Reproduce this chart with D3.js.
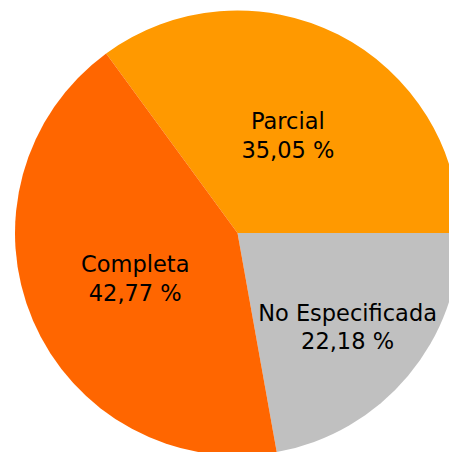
<!DOCTYPE html>
<html><head><meta charset="utf-8">
<script src="https://cdn.jsdelivr.net/npm/d3@7"></script>
<style>html,body{margin:0;padding:0;background:#fff;overflow:hidden}</style>
</head><body>
<svg id="chart" width="449" height="452"></svg>
<script>
const categories = ["Parcial", "No Especificada", "Completa"];
const values = [35.05, 22.18, 42.77];
const colors = ["#FF9900", "#C0C0C0", "#FF6600"];
const valueLabels = ["35,05 %", "22,18 %", "42,77 %"];

const cx = 237.5, cy = 233, r = 222.5;
const startDeg = 90 - values[0] / 100 * 360;
const pie = d3.pie().sort(null).value(d => d)
  .startAngle(startDeg * Math.PI / 180)
  .endAngle((startDeg + 360) * Math.PI / 180);
const arcs = pie(values);
const arc = d3.arc().innerRadius(0).outerRadius(r);
// small slices get their label pushed outward so it fits
const labelPos = d => {
  const k = (d.value < 30) ? 0.645 : 0.5;
  const a = (d.startAngle + d.endAngle) / 2;
  return [Math.sin(a) * r * k, -Math.cos(a) * r * k];
};

const svg = d3.select("#chart");
const g = svg.append("g").attr("transform", `translate(${cx},${cy})`);
g.selectAll("path").data(arcs).join("path")
  .attr("d", arc).attr("fill", (d, i) => colors[i]);

const lbl = g.selectAll("text.lbl").data(arcs).join("text")
  .attr("class", "lbl")
  .attr("transform", d => `translate(${labelPos(d)})`)
  .attr("text-anchor", "middle")
  .style("font-family", "'DejaVu Sans', Verdana, sans-serif")
  .style("font-size", "22.5px")
  .attr("fill", "#000");
lbl.append("tspan").attr("x", 0).attr("dy", "-0.2em").text((d, i) => categories[i]);
lbl.append("tspan").attr("x", 0).attr("dy", "1.28em").text((d, i) => valueLabels[i]);
</script>
</body></html>
